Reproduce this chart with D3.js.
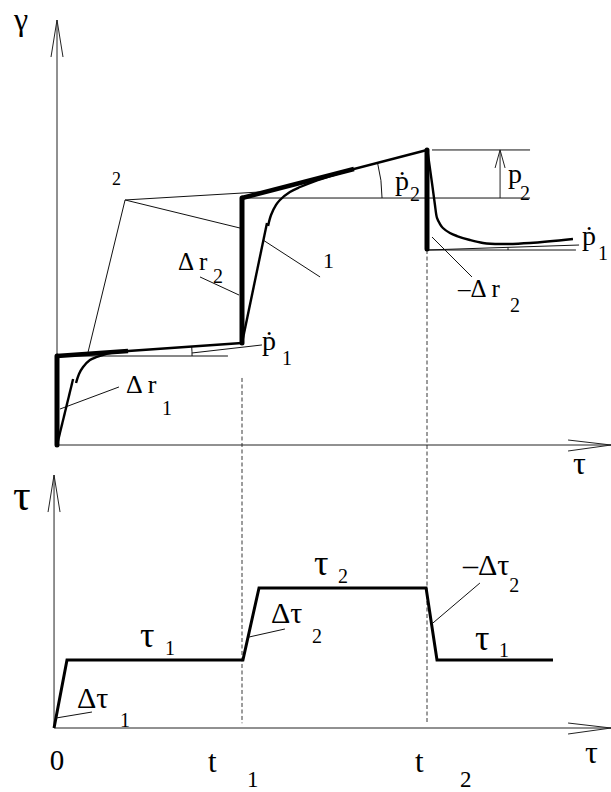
<!DOCTYPE html>
<html><head><meta charset="utf-8">
<script src="https://cdn.jsdelivr.net/npm/d3@7"></script>
<style>body{margin:0;background:#fff} svg text{font-family:'Liberation Serif',serif}</style>
</head><body>
<svg id="c" width="611" height="792"></svg>
<script>
// ================= DATA =================
// time marks: 0, t1, t2 (time units)
const tMarks   = [0, 1, 2];
const tickMain = ["0", "t", "t"];
const tickSub  = ["", "1", "2"];
const tAxisEnd = 2.995;
const tBottomAxis = -0.016;

// ---- upper chart: strain γ (units: Δr1 = 1)
const gammaAxisTop = 4.775;
// idealised envelope [t, γ]
const envelope = [[0,0],[0,1],[1,1.146],[1,2.775],[2,3.315],[2,2.202]];
const heavySlopeEnd = [0.384, 1.605];
// real response curves
const creepA1 = [[0,0],[0.087,0.742]];
const creepA2 = [[0.103,0.697],[0.119,0.798],[0.141,0.876],[0.178,0.955],[0.216,0.989],[0.286,1.034],[0.384,1.056]];
const creepB1 = [[1,1.146],[1.135,2.494]];
const creepB2 = [[1.141,2.461],[1.157,2.584],[1.184,2.697],[1.205,2.753],[1.259,2.843],[1.314,2.899],[1.395,2.966],[1.476,3.022],[1.584,3.090]];
const recoveryC = [[2.003,3.30],[2.027,2.944],[2.043,2.697],[2.054,2.551],[2.070,2.483],[2.086,2.438],[2.124,2.382],[2.162,2.348],[2.232,2.303],[2.303,2.270],[2.395,2.258],[2.557,2.270],[2.789,2.315]];

// helper lines [t0, γ0, t1, γ1]
const helperLines = [
  [0, 1, 0.924, 1],
  [1, 2.775, 2.557, 2.775],
  [2.027, 3.315, 2.557, 3.315],
  [2, 2.191, 2.805, 2.191],
  [2, 2.191, 2.822, 2.247],
  [0.730, 1.034, 1.108, 1.124],
  [0.016, 0.404, 0.335, 0.652],
  [0.773, 1.888, 0.984, 1.685],
  [1.114, 2.303, 1.422, 1.888],
  [2.027, 2.337, 2.243, 1.888],
  [0.368, 2.753, 0.168, 1.045],
  [0.368, 2.753, 0.989, 2.438],
  [0.368, 2.753, 1.097, 2.843]
];
const p2Arrow = [2.395, 2.775, 3.315];
// angle arcs [centre t, centre γ, radius (t units), slope end t, slope end γ]
const angleArcs = [
  [0, 1, 0.73, 1, 1.146],
  [1, 2.775, 0.757, 2, 3.315],
  [2, 2.191, 0.438, 2.822, 2.247]
];
// dashed guides: [t, γ top]
const guides = [[1, 0.753], [2, 2.191]];
const guideBottomTau = 0.07;

// ---- lower chart: stress τ (units: τ1 = 1)
const tauAxisTop = 3.72;
const tau1 = 1, tau2 = 2.06;
const tauStep = [[tBottomAxis,0],[0.054,tau1],[1.005,tau1],[1.092,tau2],[1.995,tau2],[2.054,tau1],[2.681,tau1]];
const tauLeaders = [
  [-0.005, 0.147, 0.189, 0.235],
  [1.038, 1.338, 1.232, 1.456],
  [2.032, 1.544, 2.286, 2.132]
];

// labels [t, value, text, size, subT, subV, sub, subSize]
const topLabels = [
  [-0.232, 4.663, "γ", 32],
  [0.297, 2.921, "2", 18],
  [0.654, 1.966, "Δ r", 25, 0.843, 1.820, "2", 20],
  [1.438, 1.989, "1", 22],
  [1.827, 2.865, "ṗ", 28, 1.908, 2.742, "2", 20],
  [2.438, 2.944, "p", 28, 2.503, 2.753, "2", 20],
  [1.108, 1.067, "ṗ", 28, 1.216, 0.899, "1", 20],
  [0.373, 0.584, "Δ r", 26, 0.568, 0.337, "1", 20],
  [2.168, 1.663, "–Δ r", 25, 2.449, 1.494, "2", 20],
  [2.838, 2.247, "ṗ", 28, 2.924, 2.079, "1", 20],
  [2.789, -0.326, "τ", 32]
];
const bottomLabels = [
  [-0.238, 3.206, "τ", 44],
  [0.449, 1.191, "τ", 36, 0.584, 1.074, "1", 20],
  [0.108, 0.294, "Δτ", 30, 0.341, 0.01, "1", 20],
  [1.389, 2.25, "τ", 36, 1.519, 2.132, "2", 20],
  [1.157, 1.544, "Δτ", 30, 1.378, 1.25, "2", 20],
  [2.195, 2.25, "–Δτ", 30, 2.445, 2.0, "2", 20],
  [2.259, 1.147, "τ", 36, 2.389, 1.044, "1", 20],
  [2.854, -0.515, "τ", 32]
];

// ================= DRAW =================
const FONT = "Liberation Serif";
const svg = d3.select("#c");
const x  = d3.scaleLinear().domain([0, 2]).range([57, 427]);
const gy = d3.scaleLinear().domain([0, 1]).range([445, 356]);
const ty = d3.scaleLinear().domain([0, 1]).range([728, 660]);

const lineG = d3.line().x(d => x(d[0])).y(d => gy(d[1]));
const curveG = d3.line().x(d => x(d[0])).y(d => gy(d[1])).curve(d3.curveCatmullRom.alpha(0.5));
const lineT = d3.line().x(d => x(d[0])).y(d => ty(d[1]));

function arrowAxis(x0, y0, x1, y1, vertical) {
  const g = svg.append("g").attr("stroke", "#222").attr("stroke-width", 1).attr("fill", "none");
  g.append("line").attr("x1", x0).attr("y1", y0).attr("x2", x1).attr("y2", y1);
  if (vertical) {
    g.append("path").attr("d", `M${x1-6},${y1+37}L${x1},${y1}L${x1+6},${y1+37}`);
  } else {
    g.append("path").attr("d", `M${x1-43},${y1-5}L${x1},${y1}L${x1-43},${y1+6}`);
  }
}
arrowAxis(x(0), gy(0), x(0), gy(gammaAxisTop), true);
arrowAxis(x(0), gy(0), x(tAxisEnd), gy(0), false);
arrowAxis(x(tBottomAxis), ty(0), x(tBottomAxis), ty(tauAxisTop), true);
arrowAxis(x(tBottomAxis), ty(0), x(tAxisEnd), ty(0), false);

// dashed guides
svg.append("g").selectAll("line").data(guides).join("line")
  .attr("x1", d => x(d[0])).attr("x2", d => x(d[0]))
  .attr("y1", d => gy(d[1])).attr("y2", ty(guideBottomTau))
  .attr("stroke", "#222").attr("stroke-width", 0.9).attr("stroke-dasharray", "4,2.5");

// helper lines
svg.append("g").selectAll("line").data(helperLines).join("line")
  .attr("x1", d => x(d[0])).attr("y1", d => gy(d[1]))
  .attr("x2", d => x(d[2])).attr("y2", d => gy(d[3]))
  .attr("stroke", "#111").attr("stroke-width", 1);

// p2 arrow
{
  const ax = x(p2Arrow[0]), yb = gy(p2Arrow[1]), yt = gy(p2Arrow[2]);
  const g = svg.append("g").attr("stroke", "#222").attr("stroke-width", 1).attr("fill", "none");
  g.append("line").attr("x1", ax).attr("x2", ax).attr("y1", yb).attr("y2", yt);
  g.append("path").attr("d", `M${ax-5},${yt+18}L${ax},${yt}L${ax+5},${yt+18}`);
}

// angle arcs
svg.append("g").selectAll("path").data(angleArcs).join("path")
  .attr("d", d => {
    const cx = x(d[0]), cy = gy(d[1]), r = x(d[2]) - x(0);
    const th = Math.atan2(gy(d[4]) - cy, x(d[3]) - cx);
    const p = d3.path();
    p.moveTo(cx + r, cy);
    p.arc(cx, cy, r, 0, th, true);
    return p.toString();
  })
  .attr("fill", "none").attr("stroke", "#111").attr("stroke-width", 1);

// real response curves
const curves = svg.append("g").attr("fill", "none").attr("stroke", "#000").attr("stroke-width", 2.4);
[creepA1, creepB1].forEach(c => curves.append("path").attr("d", lineG(c)));
[creepA2, creepB2, recoveryC].forEach(c => curves.append("path").attr("d", curveG(c)));

// envelope
const env = svg.append("g").attr("fill", "none").attr("stroke", "#000");
env.append("path").attr("d", lineG([envelope[1], envelope[2]])).attr("stroke-width", 2.4);
env.append("path").attr("d", lineG([envelope[3], envelope[4]])).attr("stroke-width", 2.4);
function slopeAt(a, b, t) { return a[1] + (b[1]-a[1]) * (t-a[0])/(b[0]-a[0]); }
env.append("path").attr("d", lineG([envelope[1], [heavySlopeEnd[0], slopeAt(envelope[1], envelope[2], heavySlopeEnd[0])]])).attr("stroke-width", 4.5);
env.append("path").attr("d", lineG([envelope[3], [heavySlopeEnd[1], slopeAt(envelope[3], envelope[4], heavySlopeEnd[1])]])).attr("stroke-width", 4.5);
[[envelope[0], envelope[1]], [envelope[2], envelope[3]], [envelope[4], envelope[5]]].forEach(s =>
  env.append("path").attr("d", lineG(s)).attr("stroke-width", 5).attr("stroke-linecap", "round"));

// stress step
svg.append("path").attr("d", lineT(tauStep)).attr("fill", "none")
  .attr("stroke", "#000").attr("stroke-width", 3).attr("stroke-linejoin", "miter");
svg.append("g").selectAll("line").data(tauLeaders).join("line")
  .attr("x1", d => x(d[0])).attr("y1", d => ty(d[1]))
  .attr("x2", d => x(d[2])).attr("y2", d => ty(d[3]))
  .attr("stroke", "#111").attr("stroke-width", 1);

// labels
function txt(px, py, size, s, anchor) {
  return svg.append("text").attr("x", px).attr("y", py)
    .attr("font-family", FONT).attr("font-size", size)
    .attr("text-anchor", anchor || "start").attr("fill", "#000").text(s);
}
function drawLabels(list, ys) {
  list.forEach(l => {
    txt(x(l[0]), ys(l[1]), l[3], l[2]);
    if (l[6] !== undefined) txt(x(l[4]), ys(l[5]), l[7], l[6]);
  });
}
drawLabels(topLabels, gy);
drawLabels(bottomLabels, ty);

// tick labels
const tickOff = [[0, 0], [-34, 5], [-12, 33]];
tMarks.forEach((t, i) => {
  const tx = x(t);
  txt(tx + tickOff[i][0], 770 + (i ? 2 : 0), i ? 31 : 29, tickMain[i], i === 0 ? "middle" : "start");
  if (tickSub[i]) txt(tx + tickOff[i][1], 787, 23, tickSub[i]);
});
</script>
</body></html>
